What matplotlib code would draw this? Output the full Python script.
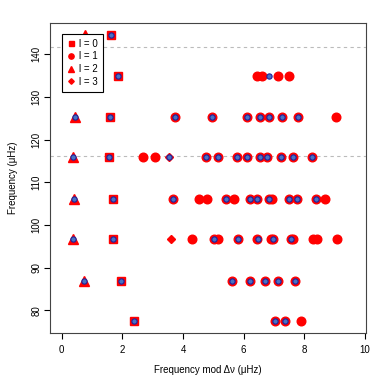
import matplotlib
matplotlib.use('Agg')
import matplotlib.pyplot as plt
from matplotlib.lines import Line2D

plt.rcParams['font.family'] = ['Liberation Sans', 'DejaVu Sans']

# row base frequencies of the echelle diagram (uHz)
rows = [144.6, 135.0, 125.4, 115.9, 106.2, 96.7, 87.0, 77.5]
dashed = [141.8, 116.1]

# observed modes, x = frequency mod dnu
l0_x = [1.63, 1.87, 1.60, 1.55, 1.68, 1.68, 1.94, 2.38]
l0_y = rows
l2_x = [0.77, 0.44, 0.36, 0.41, 0.36, 0.75]
l2_y = [144.6, 125.4, 115.9, 106.2, 96.7, 87.0]
l3_x = [3.53, 3.59]
l3_y = [115.9, 96.7]
l1_x = [
    [],
    [6.45, 6.61, 7.12, 7.50],
    [3.75, 4.97, 6.12, 6.54, 6.84, 7.27, 7.79, 9.04],
    [2.69, 3.08, 4.75, 5.16, 5.77, 6.11, 6.53, 6.76, 7.22, 7.62, 8.24],
    [3.66, 4.53, 4.79, 5.41, 5.67, 6.21, 6.43, 6.84, 6.93, 7.48, 7.76, 8.40, 8.70],
    [4.31, 5.03, 5.14, 5.82, 6.44, 6.89, 6.98, 7.55, 7.64, 8.30, 8.43, 9.08],
    [5.60, 6.21, 6.70, 7.14, 7.71],
    [7.02, 7.37, 7.90],
]

# model frequencies
model_x = [
    [1.63],
    [1.87, 6.82],
    [0.44, 1.60, 3.75, 4.97, 6.12, 6.54, 6.84, 7.27, 7.79],
    [0.36, 1.55, 3.53, 4.75, 5.16, 5.77, 6.11, 6.53, 6.76, 7.22, 7.62, 8.24],
    [0.41, 1.68, 3.66, 5.41, 6.21, 6.43, 6.84, 7.48, 7.76, 8.40],
    [0.36, 1.68, 5.02, 5.80, 6.46, 6.98, 7.55],
    [0.75, 1.94, 5.60, 6.21, 6.70, 7.14, 7.71],
    [2.38, 7.02, 7.37],
]

red = '#ff0000'
blue_face = '#4672c4'
blue_edge = '#20209a'

fig = plt.figure(figsize=(3.9, 3.9), dpi=100)
ax = fig.add_axes([0.128, 0.147, 0.81, 0.795])

for d in dashed:
    ax.axhline(d, color='#bbbbbb', lw=0.8, ls=(0, (3, 3)), zorder=1)

ax.plot(l0_x, l0_y, 's', color=red, ms=6.0, zorder=2, ls='none')
ax.plot(l2_x, l2_y, '^', color=red, ms=7.0, zorder=2, ls='none')
ax.plot(l3_x, l3_y, 'D', color=red, ms=4.4, zorder=2, ls='none')
for y, xs in zip(rows, l1_x):
    ax.plot(xs, [y] * len(xs), 'o', color=red, ms=6.2, zorder=2, ls='none')

for y, xs in zip(rows, model_x):
    ax.plot(xs, [y] * len(xs), 'o', mfc=blue_face, mec=blue_edge, mew=0.8,
            ms=3.8, zorder=3, ls='none')

ax.set_xlim(-0.39, 10.03)
ax.set_ylim(74.8, 147.4)
ax.set_xticks(range(0, 11, 2))
ax.set_yticks(range(80, 141, 10))
ax.tick_params(direction='out', length=4, width=0.8, labelsize=7)
ax.tick_params(axis='x', pad=5)
ax.tick_params(axis='y', pad=2)
for lab in ax.get_yticklabels():
    lab.set_rotation(90)
    lab.set_va('center')
for s in ax.spines.values():
    s.set_linewidth(0.8)
    s.set_color('#444444')

ax.set_xlabel('Frequency mod \u0394\u03bd (\u03bcHz)', fontsize=7, labelpad=7)
ax.set_ylabel('Frequency (\u03bcHz)', fontsize=7, labelpad=10)

handles = [
    Line2D([], [], marker='s', color=red, ls='none', ms=3.6, label='l = 0'),
    Line2D([], [], marker='o', color=red, ls='none', ms=3.8, label='l = 1'),
    Line2D([], [], marker='^', color=red, ls='none', ms=4.4, label='l = 2'),
    Line2D([], [], marker='D', color=red, ls='none', ms=2.8, label='l = 3'),
]
leg = ax.legend(handles=handles, loc='upper left', bbox_to_anchor=(0.038, 0.964),
                fontsize=7, frameon=True, fancybox=False, framealpha=1,
                edgecolor='black', borderpad=0.5, handlelength=0.8,
                handletextpad=0.5, labelspacing=0.28, borderaxespad=0)
leg.get_frame().set_linewidth(0.8)
leg.set_zorder(5)

fig.savefig('out.png', dpi=100)
